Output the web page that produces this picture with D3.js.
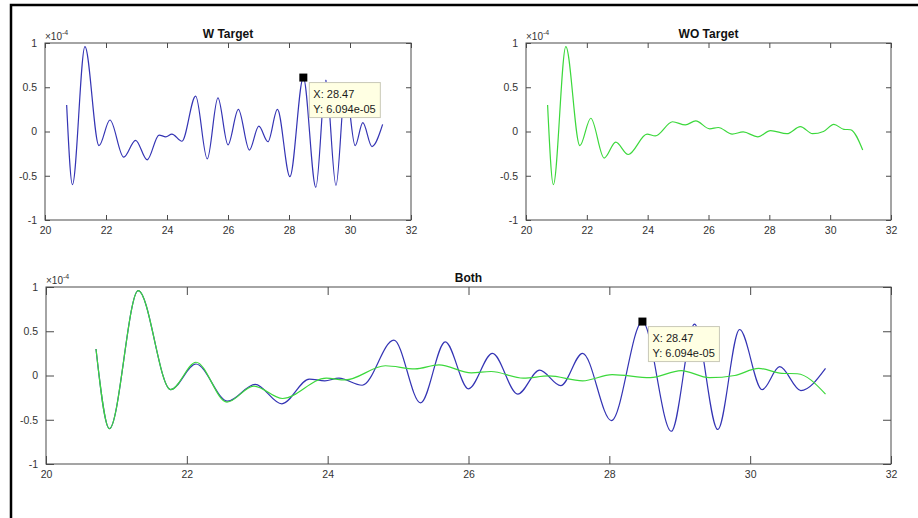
<!DOCTYPE html>
<html>
<head>
<meta charset="utf-8">
<script src="https://cdn.jsdelivr.net/npm/d3@7"></script>
<style>
  body { margin: 0; background: #fff; }
  svg text { font-family: "Liberation Sans", Arial, sans-serif; }
</style>
</head>
<body>
<div id="visualization"></div>
<script>
// tick values
const xTicks = [20, 22, 24, 26, 28, 30, 32];
const yTicks = [-1, -0.5, 0, 0.5, 1];

// "W Target" signal, y in units of 1e-4 (read at turning points)
const wTargetX = [20.71, 20.90, 21.31, 21.77, 22.13, 22.58, 22.97, 23.35, 23.74, 23.96, 24.16, 24.49,
  24.94, 25.32, 25.67, 26.00, 26.34, 26.70, 27.01, 27.31, 27.62, 28.03, 28.47, 28.88, 29.21, 29.54,
  29.85, 30.17, 30.42, 30.72, 31.07];
const wTargetY = [0.30, -0.60, 0.96, -0.16, 0.13, -0.29, -0.10, -0.32, -0.04, -0.06, -0.03, -0.11,
  0.40, -0.31, 0.38, -0.15, 0.25, -0.21, 0.06, -0.115, 0.25, -0.51, 0.6094, -0.63, 0.58, -0.61,
  0.52, -0.16, 0.10, -0.17, 0.08];

// "WO Target" signal
const woTargetX = [20.71, 20.90, 21.31, 21.77, 22.13, 22.57, 22.95, 23.36, 23.98, 24.25, 24.82, 25.24,
  25.58, 26.04, 26.32, 26.78, 27.14, 27.62, 28.04, 28.58, 29.02, 29.42, 29.78, 30.12, 30.45, 30.67, 31.07];
const woTargetY = [0.30, -0.60, 0.96, -0.16, 0.15, -0.30, -0.12, -0.26, -0.03, -0.05, 0.11, 0.075,
  0.12, 0.03, 0.045, -0.03, -0.005, -0.06, 0.01, -0.025, 0.055, -0.025, 0.00, 0.08, 0.025, 0.02, -0.21];

// data cursor
const cursorX = 28.47;
const cursorY = 0.6094;
const cursorLines = ['X: 28.47', 'Y: 6.094e-05'];

const width = 918;
const height = 518;
const blue = '#3434b4';
const green = '#3cd83c';
const axisColor = '#4a4a4a';
const textColor = '#333';

const wData = wTargetX.map((x, i) => ({ x, y: wTargetY[i] }));
const woData = woTargetX.map((x, i) => ({ x, y: woTargetY[i] }));

const panels = [
  { title: 'W Target', left: 45, right: 411, top: 43, bottom: 220, tick: 5, series: [[wData, blue]], cursor: true },
  { title: 'WO Target', left: 526, right: 891, top: 43, bottom: 220, tick: 5, series: [[woData, green]], cursor: false },
  { title: 'Both', left: 46, right: 891, top: 287, bottom: 464, tick: 8, series: [[wData, blue], [woData, green]], cursor: true },
];

const svg = d3.select('#visualization')
  .append('svg')
  .attr('width', width)
  .attr('height', height);

svg.append('rect').attr('width', width).attr('height', height).attr('fill', '#fff');

// figure frame (only left and top edges are inside the crop)
svg.append('path')
  .attr('d', `M11,${height}V5H${width}`)
  .attr('fill', 'none')
  .attr('stroke', '#000')
  .attr('stroke-width', 2.5);

function drawPanel(p) {
  const x = d3.scaleLinear().domain([20, 32]).range([p.left, p.right]);
  const y = d3.scaleLinear().domain([-1, 1]).range([p.bottom, p.top]);
  const g = svg.append('g');

  const styleAxis = (sel) => {
    sel.select('.domain').remove();
    sel.selectAll('line').attr('stroke', axisColor);
    sel.selectAll('text').attr('fill', textColor).style('font-size', '10.5px');
  };

  g.append('g')
    .attr('transform', `translate(0,${p.bottom})`)
    .call(d3.axisBottom(x).tickValues(xTicks).tickSize(-p.tick).tickPadding(7).tickFormat(d3.format('d')))
    .call(styleAxis);
  g.append('g')
    .attr('transform', `translate(0,${p.top})`)
    .call(d3.axisTop(x).tickValues(xTicks).tickSize(-p.tick).tickFormat(''))
    .call(styleAxis);
  g.append('g')
    .attr('transform', `translate(${p.left},0)`)
    .call(d3.axisLeft(y).tickValues(yTicks).tickSize(-p.tick).tickPadding(8).tickFormat((d) => String(d)))
    .call(styleAxis);
  g.append('g')
    .attr('transform', `translate(${p.right},0)`)
    .call(d3.axisRight(y).tickValues(yTicks).tickSize(-p.tick).tickFormat(''))
    .call(styleAxis);

  g.append('rect')
    .attr('x', p.left)
    .attr('y', p.top)
    .attr('width', p.right - p.left)
    .attr('height', p.bottom - p.top)
    .attr('fill', 'none')
    .attr('stroke', axisColor)
    .attr('stroke-width', 1);

  const line = d3.line()
    .x((d) => x(d.x))
    .y((d) => y(d.y))
    .curve(d3.curveMonotoneX);

  p.series.forEach(([data, color]) => {
    g.append('path')
      .datum(data)
      .attr('d', line)
      .attr('fill', 'none')
      .attr('stroke', color)
      .attr('stroke-width', 1.2);
  });

  // title
  g.append('text')
    .attr('x', (p.left + p.right) / 2)
    .attr('y', p.top - 5)
    .attr('text-anchor', 'middle')
    .style('font-size', '12px')
    .style('font-weight', 'bold')
    .attr('fill', '#111')
    .text(p.title);

  // exponent
  const ex = g.append('text')
    .attr('x', p.left)
    .attr('y', p.top - 3)
    .attr('fill', textColor)
    .style('font-size', '10px');
  ex.append('tspan').text('\u00d710');
  ex.append('tspan').attr('dy', -5).style('font-size', '7px').text('-4');

  if (p.cursor) {
    const cx = x(cursorX);
    const cy = y(cursorY);
    g.append('rect')
      .attr('x', cx - 4)
      .attr('y', cy - 4)
      .attr('width', 8)
      .attr('height', 8)
      .attr('fill', '#000');
    const box = g.append('g').attr('transform', `translate(${cx + 6},${cy + 5})`);
    box.append('rect')
      .attr('width', 71)
      .attr('height', 35)
      .attr('fill', '#ffffe3')
      .attr('stroke', '#c9c9b8');
    box.selectAll('text')
      .data(cursorLines)
      .enter()
      .append('text')
      .attr('x', 4)
      .attr('y', (d, i) => 15 + i * 15)
      .attr('fill', '#1a1a1a')
      .style('font-size', '11px')
      .text((d) => d);
  }
}

panels.forEach(drawPanel);
</script>
</body>
</html>
